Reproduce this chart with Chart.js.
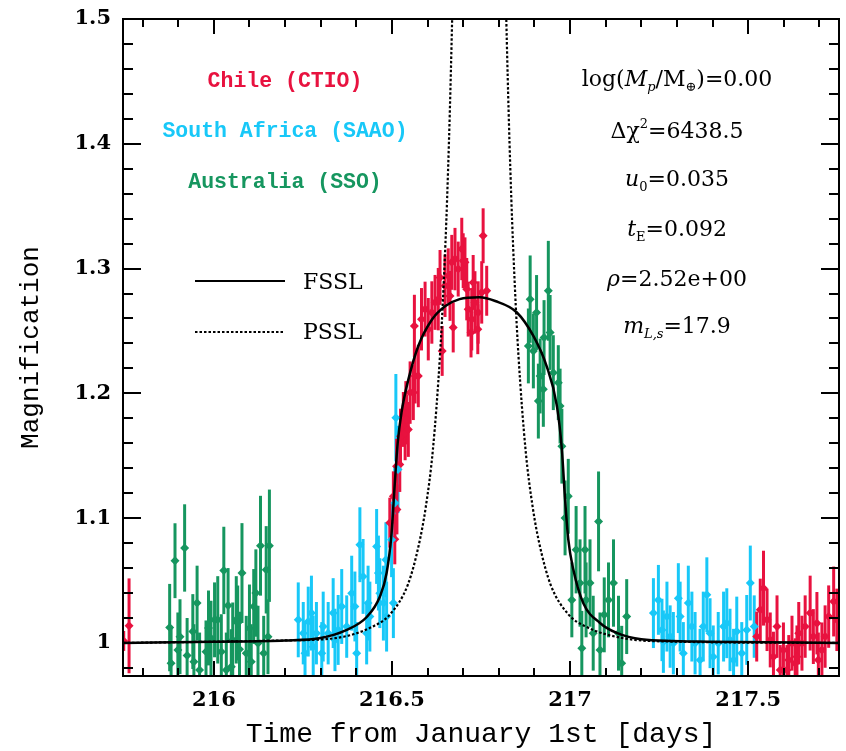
<!DOCTYPE html>
<html>
<head>
<meta charset="utf-8">
<script src="https://cdn.jsdelivr.net/npm/chart.js@4.4.0/dist/chart.umd.min.js"></script>
<style>
  body { margin: 0; background: #fff; }
  #wrap { width: 846px; height: 751px; }
</style>
</head>
<body>
<div id="wrap"><canvas id="c"></canvas></div>
<script>
// Chile (CTIO)
const ctioTime = [215.747, 215.762,
  216.494, 216.504, 216.508, 216.513, 216.514, 216.522, 216.524, 216.532, 216.537, 216.539, 216.541, 216.546,
  216.551, 216.560, 216.563, 216.565, 216.574, 216.583, 216.593, 216.602, 216.612, 216.621, 216.630, 216.635,
  216.641, 216.649, 216.658, 216.663, 216.668, 216.672, 216.677, 216.686, 216.696, 216.700, 216.705, 216.710,
  216.714, 216.722, 216.724, 216.728, 216.733, 216.741, 216.742, 216.752, 216.756, 216.766,
  217.524, 217.534, 217.543, 217.553, 217.562, 217.571, 217.581, 217.590, 217.599, 217.609, 217.614, 217.623,
  217.632, 217.637, 217.642, 217.651, 217.660, 217.674, 217.683, 217.693, 217.697, 217.707, 217.716, 217.726,
  217.740, 217.749]
const ctioMag = [1.0016, 1.0137,
  1.0964, 1.1175, 1.083, 1.1416, 1.107, 1.143, 1.1657, 1.1791, 1.1684, 1.1898, 1.1791, 1.1711,
  1.2006, 1.2006, 1.254, 1.2139, 1.2139, 1.2594, 1.2675, 1.2514, 1.2648, 1.2729, 1.2755, 1.2929,
  1.234, 1.2862, 1.2942, 1.2781, 1.305, 1.2528, 1.3076, 1.2996, 1.3157, 1.3063, 1.305, 1.2835,
  1.2675, 1.2488, 1.2594, 1.2889, 1.2729, 1.2514, 1.2648, 1.2809, 1.3263, 1.2822,
  1.0051, 1.0265, 1.0439, 1.0185, 1.0024, 0.989, 1.0131, 0.9783, 0.9944, 0.9783, 0.9863, 0.9998,
  0.9837, 0.989, 1.0078, 0.9998, 1.0131, 1.0239, 1.0051, 1.0158, 0.9863, 0.9944, 1.0051, 1.0211,
  1.0332, 1.0185]
const ctioErr = [0.008, 0.038,
  0.02, 0.02, 0.02, 0.022, 0.02, 0.022, 0.022, 0.022, 0.022, 0.02, 0.02, 0.022,
  0.025, 0.022, 0.025, 0.022, 0.025, 0.025, 0.022, 0.025, 0.025, 0.022, 0.025, 0.022,
  0.02, 0.025, 0.022, 0.02, 0.022, 0.02, 0.025, 0.022, 0.025, 0.022, 0.02, 0.025,
  0.022, 0.02, 0.025, 0.022, 0.025, 0.02, 0.025, 0.025, 0.022, 0.02,
  0.02, 0.025, 0.03, 0.025, 0.022, 0.02, 0.025, 0.02, 0.022, 0.02, 0.02, 0.022,
  0.02, 0.025, 0.025, 0.022, 0.025, 0.03, 0.022, 0.025, 0.022, 0.022, 0.025, 0.025,
  0.028, 0.025]

// South Africa (SAAO)
const saaoTime = [216.237, 216.251, 216.256, 216.265, 216.274, 216.279, 216.288, 216.303, 216.307, 216.321,
  216.335, 216.340, 216.349, 216.359, 216.373, 216.387, 216.396, 216.401, 216.410, 216.419, 216.429, 216.433,
  216.438, 216.457, 216.462, 216.466, 216.476, 216.483, 216.485, 216.499, 216.504, 216.508, 216.511, 216.517,
  217.234, 217.248, 217.258, 217.262, 217.272, 217.281, 217.290, 217.304, 217.309, 217.318, 217.332, 217.342,
  217.351, 217.365, 217.374, 217.384, 217.393, 217.402, 217.416, 217.431, 217.440, 217.449, 217.459, 217.468,
  217.482, 217.496, 217.506, 217.517]
const saaoMag = [1.0185, 1.0078, 0.9917, 1.0171, 1.0239, 0.997, 1.0078, 0.9917, 1.0131, 1.0078,
  1.0239, 1.0024, 1.0104, 1.0292, 1.0131, 1.0399, 1.0292, 0.9917, 1.0787, 1.0533, 1.0078, 1.0319,
  1.0211, 1.0773, 1.056, 1.0399, 1.0319, 1.0667, 1.0211, 1.0827, 1.0319, 1.1122, 1.1805, 1.139,
  1.0239, 1.0345, 1.0104, 1.001, 1.0211, 1.0051, 0.9998, 1.0359, 1.0211, 0.9917, 1.0319, 1.0131,
  0.9998, 0.9863, 1.0131, 1.0386, 1.0078, 0.989, 0.9998, 1.0131, 1.0158, 1.0024, 0.9863, 1.0091,
  0.9917, 1.0104, 1.048, 1.0131]
const saaoErr = [0.03, 0.025, 0.025, 0.028, 0.03, 0.025, 0.025, 0.025, 0.028, 0.025,
  0.028, 0.025, 0.028, 0.03, 0.025, 0.03, 0.028, 0.025, 0.03, 0.03, 0.025, 0.03,
  0.028, 0.03, 0.03, 0.028, 0.03, 0.03, 0.028, 0.03, 0.028, 0.03, 0.035, 0.035,
  0.028, 0.028, 0.025, 0.025, 0.028, 0.025, 0.025, 0.028, 0.028, 0.025, 0.03, 0.028,
  0.025, 0.025, 0.028, 0.03, 0.028, 0.025, 0.025, 0.028, 0.028, 0.025, 0.025, 0.028,
  0.025, 0.028, 0.03, 0.025]

// Australia (SSO)
const ssoTime = [215.876, 215.880, 215.891, 215.899, 215.905, 215.918, 215.925, 215.941, 215.944, 215.953,
  215.960, 215.978, 215.985, 215.992, 216.002, 216.011, 216.021, 216.028, 216.035, 216.040, 216.049, 216.053,
  216.063, 216.067, 216.072, 216.079, 216.091, 216.100, 216.105, 216.112, 216.118, 216.124, 216.131, 216.140,
  216.147, 216.152, 216.156,
  216.883, 216.888, 216.897, 216.906, 216.911, 216.916, 216.925, 216.927, 216.939, 216.944, 216.953, 216.967,
  216.972, 216.977, 216.986, 216.995, 217.005, 217.017, 217.028, 217.033, 217.042, 217.045, 217.056, 217.065,
  217.080, 217.084, 217.096, 217.108, 217.122, 217.136, 217.145, 217.159]
const ssoMag = [1.0123, 0.9837, 1.0659, 0.9944, 1.005, 1.0761, 0.99, 1.0091, 0.985, 1.0319,
  0.9783, 0.993, 1.012, 1.0038, 1.0185, 1.0185, 0.993, 1.0581, 0.9783, 1.03, 0.981, 1.0024,
  1.0185, 1.016, 0.995, 1.056, 0.9917, 1.0118, 0.985, 1.0292, 1.04, 0.9998, 1.0779, 0.9917,
  1.0586, 1.005, 1.0779,
  1.238, 1.2755, 1.234, 1.2648, 1.1938, 1.2139, 1.2032, 1.2447, 1.2822, 1.2488, 1.2166, 1.2086,
  1.1898, 1.1577, 1.1002, 1.1175, 1.0345, 1.0747, 1.048, 0.9957, 1.0747, 1.0345, 1.048, 1.0078,
  1.0974, 0.9944, 1.0225, 1.0345, 1.048, 1.0078, 0.9837, 1.0211]
const ssoErr = [0.035, 0.03, 0.03, 0.03, 0.03, 0.035, 0.03, 0.03, 0.03, 0.03,
  0.03, 0.025, 0.03, 0.03, 0.03, 0.035, 0.03, 0.035, 0.03, 0.03, 0.03, 0.03,
  0.035, 0.03, 0.03, 0.04, 0.03, 0.035, 0.03, 0.03, 0.035, 0.03, 0.04, 0.03,
  0.035, 0.03, 0.045,
  0.03, 0.035, 0.03, 0.03, 0.03, 0.03, 0.03, 0.03, 0.04, 0.03, 0.03, 0.03,
  0.03, 0.03, 0.03, 0.03, 0.03, 0.035, 0.035, 0.03, 0.035, 0.03, 0.035, 0.03,
  0.04, 0.03, 0.03, 0.03, 0.035, 0.03, 0.03, 0.03]

// finite-source model (solid)
const fsslTime = [215.745, 216.0, 216.2, 216.3, 216.37, 216.43, 216.466, 216.485, 216.499, 216.508, 216.516,
  216.527, 216.546, 216.574, 216.612, 216.65, 216.69, 216.745, 216.79, 216.85, 216.897, 216.934, 216.963,
  216.977, 216.986, 216.995, 217.009, 217.037, 217.084, 217.131, 217.2, 217.4, 217.755]
const fsslMag = [1.0, 1.001, 1.002, 1.004, 1.010, 1.021, 1.037, 1.056, 1.088, 1.128, 1.160,
  1.185, 1.211, 1.238, 1.259, 1.270, 1.2755, 1.277, 1.274, 1.265, 1.246, 1.222, 1.190,
  1.155, 1.115, 1.083, 1.059, 1.032, 1.016, 1.008, 1.003, 1.001, 1.0]

// point-source model (dotted)
const psslTime = [215.745, 216.0, 216.2, 216.345, 216.445, 216.495, 216.545, 216.575, 216.595, 216.615, 216.635,
  216.645, 216.655, 216.665, 216.675, 216.685, 216.805, 216.815, 216.825, 216.835, 216.845, 216.855, 216.875,
  216.895, 216.915, 216.945, 216.995, 217.045, 217.145, 217.3, 217.755]
const psslMag = [1.0, 1.001, 1.002, 1.004, 1.013, 1.023, 1.047, 1.078, 1.109, 1.155, 1.231,
  1.286, 1.357, 1.453, 1.583, 1.766, 1.766, 1.583, 1.453, 1.357, 1.286, 1.231, 1.155,
  1.109, 1.078, 1.047, 1.023, 1.013, 1.004, 1.001, 1.0]

// labelled ticks
const xLabels = [216, 216.5, 217, 217.5]
const yLabels = [1, 1.1, 1.2, 1.3, 1.4, 1.5]

const red = '#e8123f'
const cyan = '#18c8f8'
const green = '#16965f'

const xTicks = []
for (let v = 2158; v <= 2177; v++) xTicks.push(v / 10)
const yTicks = []
for (let v = 49; v <= 75; v++) yTicks.push(v / 50)

const isLabel = (list, v) => list.find(l => Math.abs(l - v) < 1e-6)

const site = (t, m, e, color) => ({
  type: 'scatter',
  data: t.map((v, i) => ({ x: v, y: m[i] })),
  err: e,
  backgroundColor: color,
  borderColor: color,
  borderWidth: 0,
  pointStyle: 'rectRot',
  pointRadius: 4.5
})

const curve = (t, m, dash, width) => ({
  type: 'line',
  data: t.map((v, i) => ({ x: v, y: m[i] })),
  showLine: true,
  borderColor: '#000',
  borderWidth: width,
  borderDash: dash,
  pointRadius: 0,
  fill: false,
  cubicInterpolationMode: 'monotone'
})

// draws a line of text with italic / sub / sup pieces, centred on cx
function richText(ctx, parts, cx, cy, size) {
  const fam = '"DejaVu Serif", serif'
  const fontOf = p => (p.i ? 'italic ' : '') + (p.sub || p.sup ? Math.round(size * 0.6) : size) + 'px ' + fam
  let w = 0
  parts.forEach(p => { ctx.font = fontOf(p); w += ctx.measureText(p.t).width })
  let x = cx - w / 2
  ctx.textAlign = 'left'
  ctx.textBaseline = 'middle'
  parts.forEach(p => {
    ctx.font = fontOf(p)
    const dy = p.sub ? size * 0.35 : p.sup ? -size * 0.35 : 0
    ctx.fillText(p.t, x, cy + dy)
    x += ctx.measureText(p.t).width
  })
}

const decor = {
  id: 'decor',
  beforeDatasetsDraw(chart) {
    const { ctx, chartArea: a, scales: { x, y } } = chart
    ctx.save()
    ctx.beginPath()
    ctx.rect(a.left, a.top, a.right - a.left, a.bottom - a.top)
    ctx.clip()
    ctx.lineWidth = 3
    chart.data.datasets.forEach(ds => {
      if (!ds.err) return
      ctx.strokeStyle = ds.borderColor
      ds.data.forEach((p, j) => {
        const px = x.getPixelForValue(p.x)
        ctx.beginPath()
        ctx.moveTo(px, y.getPixelForValue(p.y - ds.err[j]))
        ctx.lineTo(px, y.getPixelForValue(p.y + ds.err[j]))
        ctx.stroke()
      })
    })
    ctx.restore()
  },
  afterDatasetsDraw(chart) {
    const { ctx, chartArea: a, scales: { x, y } } = chart
    ctx.save()
    ctx.strokeStyle = '#000'
    ctx.lineWidth = 2
    ctx.strokeRect(a.left, a.top, a.right - a.left, a.bottom - a.top)
    ctx.beginPath()
    x.ticks.forEach(t => {
      const len = isLabel(xLabels, t.value) !== undefined ? 15 : 8
      const px = Math.round(x.getPixelForValue(t.value))
      ctx.moveTo(px, a.bottom); ctx.lineTo(px, a.bottom - len)
      ctx.moveTo(px, a.top); ctx.lineTo(px, a.top + len)
    })
    y.ticks.forEach(t => {
      const len = isLabel(yLabels, t.value) !== undefined ? 18 : 10
      const py = Math.round(y.getPixelForValue(t.value))
      ctx.moveTo(a.left, py); ctx.lineTo(a.left + len, py)
      ctx.moveTo(a.right, py); ctx.lineTo(a.right - len, py)
    })
    ctx.stroke()
    ctx.restore()
  },
  afterDraw(chart) {
    const ctx = chart.ctx
    ctx.save()
    // site names
    ctx.font = 'bold 21.5px "Liberation Mono", monospace'
    ctx.textAlign = 'center'
    ctx.textBaseline = 'middle'
    ctx.fillStyle = red; ctx.fillText('Chile (CTIO)', 285, 82)
    ctx.fillStyle = cyan; ctx.fillText('South Africa (SAAO)', 285, 132)
    ctx.fillStyle = green; ctx.fillText('Australia (SSO)', 285, 183)

    // model key
    ctx.strokeStyle = '#000'
    ctx.lineWidth = 2
    ctx.beginPath(); ctx.moveTo(195, 281); ctx.lineTo(285, 281); ctx.stroke()
    ctx.setLineDash([2.5, 2])
    ctx.beginPath(); ctx.moveTo(195, 332); ctx.lineTo(285, 332); ctx.stroke()
    ctx.setLineDash([])
    ctx.fillStyle = '#000'
    ctx.font = '22px "DejaVu Serif", serif'
    ctx.textAlign = 'left'
    ctx.fillText('FSSL', 303, 283)
    ctx.fillText('PSSL', 303, 333)

    // fit parameters
    const cx = 677, size = 22
    richText(ctx, [{ t: 'log(' }, { t: 'M', i: 1 }, { t: 'p', i: 1, sub: 1 }, { t: '/M' }, { t: '⊕', sub: 1 }, { t: ')=0.00' }], cx, 80, size)
    richText(ctx, [{ t: 'Δχ' }, { t: '2', sup: 1 }, { t: '=6438.5' }], cx, 132, size)
    richText(ctx, [{ t: 'u', i: 1 }, { t: '0', sub: 1 }, { t: '=0.035' }], cx, 180, size)
    richText(ctx, [{ t: 't', i: 1 }, { t: 'E', sub: 1 }, { t: '=0.092' }], cx, 230, size)
    richText(ctx, [{ t: 'ρ', i: 1 }, { t: '=2.52e+00' }], cx, 280, size)
    richText(ctx, [{ t: 'm', i: 1 }, { t: 'L,s', i: 1, sub: 1 }, { t: '=17.9' }], cx, 327, size)
    ctx.restore()
  }
}

const tickFont = { family: '"DejaVu Serif", serif', size: 21, weight: 'bold' }

new Chart(document.getElementById('c'), {
  type: 'scatter',
  data: {
    datasets: [
      curve(fsslTime, fsslMag, [], 2.5),
      curve(psslTime, psslMag, [2.5, 2], 2.2),
      site(ssoTime, ssoMag, ssoErr, green),
      site(saaoTime, saaoMag, saaoErr, cyan),
      site(ctioTime, ctioMag, ctioErr, red)
    ]
  },
  options: {
    responsive: true,
    maintainAspectRatio: false,
    animation: false,
    layout: { padding: { top: 19, right: 7, left: 0, bottom: 0 } },
    plugins: { legend: { display: false }, tooltip: { enabled: false } },
    scales: {
      x: {
        type: 'linear',
        min: 215.745,
        max: 217.755,
        afterBuildTicks: s => { s.ticks = xTicks.map(v => ({ value: v })) },
        afterFit: s => { s.height = 75; s.paddingLeft = 0; s.paddingRight = 0 },
        grid: { display: false, drawTicks: false },
        border: { display: false },
        ticks: {
          autoSkip: false, maxRotation: 0, padding: 12, color: '#000', font: tickFont,
          callback: v => { const l = isLabel(xLabels, v); return l === undefined ? '' : String(l) }
        },
        title: {
          display: true, text: 'Time from January 1st [days]', color: '#000',
          font: { family: '"Liberation Mono", monospace', size: 28 }, padding: { top: 0, bottom: 0 }
        }
      },
      y: {
        type: 'linear',
        min: 0.9735,
        max: 1.5,
        afterBuildTicks: s => { s.ticks = yTicks.map(v => ({ value: v })) },
        afterFit: s => { s.width = 123; s.paddingTop = 0; s.paddingBottom = 0 },
        grid: { display: false, drawTicks: false },
        border: { display: false },
        ticks: {
          autoSkip: false, padding: 12, color: '#000', font: tickFont,
          callback: v => { const l = isLabel(yLabels, v); return l === undefined ? '' : String(l) }
        },
        title: {
          display: true, text: 'Magnification', color: '#000',
          font: { family: '"Liberation Mono", monospace', size: 26 }, padding: { top: 16, bottom: 0 }
        }
      }
    }
  },
  plugins: [decor]
})
</script>
</body>
</html>
